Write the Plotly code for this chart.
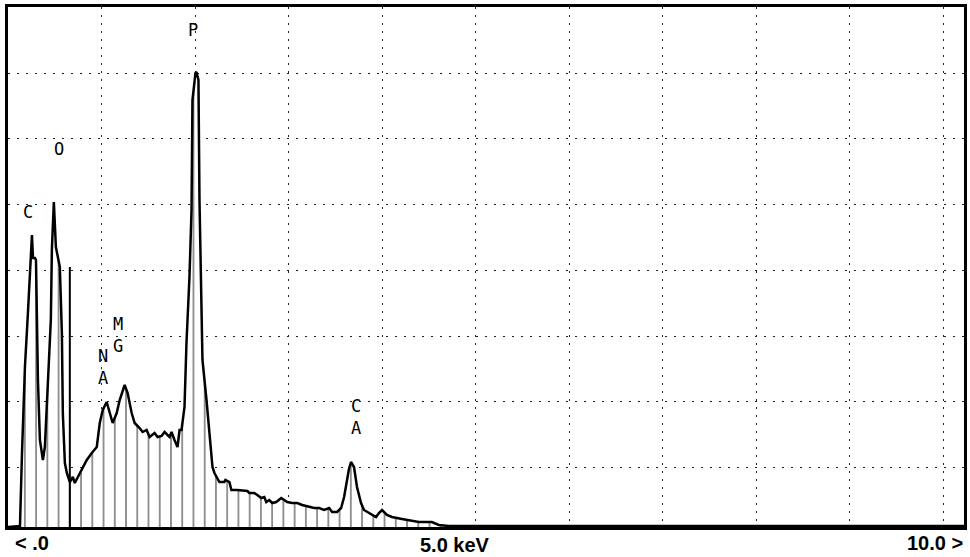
import plotly.graph_objects as go

# ---- data (energy in keV, counts in arbitrary units) ----
energy_kev = [0.000, 0.128, 0.149, 0.181, 0.213, 0.245, 0.256, 0.267, 0.288, 0.299,
              0.309, 0.320, 0.341, 0.362, 0.373, 0.394, 0.426, 0.458, 0.469, 0.490,
              0.512, 0.554, 0.576, 0.586, 0.608, 0.629, 0.661, 0.693, 0.714, 0.768,
              0.842, 0.896, 0.949, 0.981, 1.013, 1.055, 1.087, 1.119, 1.162, 1.194,
              1.247, 1.279, 1.322, 1.354, 1.407, 1.439, 1.482, 1.514, 1.567, 1.599,
              1.642, 1.674, 1.727, 1.748, 1.780, 1.812, 1.834, 1.855, 1.887, 1.908,
              1.940, 1.962, 1.972, 2.004, 2.015, 2.036, 2.047, 2.068, 2.079, 2.122,
              2.154, 2.186, 2.207, 2.260, 2.313, 2.324, 2.367, 2.388, 2.452, 2.559,
              2.580, 2.633, 2.665, 2.708, 2.740, 2.761, 2.793, 2.825, 2.868, 2.921,
              2.953, 2.985, 3.038, 3.092, 3.145, 3.198, 3.241, 3.273, 3.326, 3.380,
              3.433, 3.465, 3.518, 3.561, 3.593, 3.625, 3.645, 3.667, 3.699, 3.731,
              3.774, 3.806, 3.859, 3.934, 3.966, 3.998, 4.051, 4.104, 4.211, 4.318,
              4.392, 4.467, 4.531, 4.606, 4.712, 10.22]
counts = [0, 1, 72, 160, 214, 269, 292, 269, 269, 267,
          207, 147, 87, 70, 67, 80, 140, 207, 277, 325,
          280, 260, 194, 114, 64, 54, 45, 50, 44, 54,
          67, 74, 80, 104, 117, 125, 114, 104, 114, 127,
          142, 134, 114, 104, 99, 95, 97, 90, 94, 90,
          91, 95, 90, 95, 87, 80, 97, 97, 120, 184,
          250, 317, 427, 454, 455, 447, 327, 234, 167, 127,
          90, 60, 54, 45, 45, 47, 45, 37, 37, 36,
          34, 34, 32, 29, 30, 25, 27, 24, 25, 29,
          27, 25, 24, 24, 22, 21, 20, 19, 19, 17,
          19, 15, 15, 19, 30, 47, 58, 65, 60, 40,
          24, 17, 14, 10, 14, 17, 12, 10, 8, 6,
          5, 5, 5, 2, 1, 1]

marker_kev = [0.661]
marker_counts = [260]

peak_labels = ["C", "O", "P", "M<br>G", "N<br>A", "C<br>A"]
peak_kev = [0.213, 0.544, 1.983, 1.173, 1.013, 3.721]
peak_counts = [315, 378, 497, 192, 160, 110]

x_grid = [1, 2, 3, 4, 5, 6, 7, 8, 9, 10]
y_grid = [60, 126, 191, 257, 323, 389, 454]

fig = go.Figure()

# hatched spectrum
fig.add_trace(go.Scatter(
    x=energy_kev, y=counts, mode="lines",
    line=dict(color="black", width=2.5),
    fill="tozeroy",
    fillpattern=dict(shape="|", size=11.24, solidity=0.1,
                     fgcolor="#444444", bgcolor="white", fillmode="replace"),
    hoverinfo="skip", showlegend=False))

# marker line(s)
mx, my = [], []
for e, c in zip(marker_kev, marker_counts):
    mx += [e, e, None]
    my += [0, c, None]
fig.add_trace(go.Scatter(x=mx, y=my, mode="lines",
                         line=dict(color="black", width=2),
                         hoverinfo="skip", showlegend=False))

for t, e, c in zip(peak_labels, peak_kev, peak_counts):
    fig.add_annotation(x=e, y=c, xref="x", yref="y", text=t, showarrow=False,
                       font=dict(family="DejaVu Sans Mono", size=17, color="black"))

lab_font = dict(family="Liberation Sans", size=20, color="black", weight="bold")
fig.add_annotation(x=0.005, y=-0.031, xref="paper", yref="paper", text="< .0",
                   showarrow=False, xanchor="left", yanchor="middle", font=lab_font)
fig.add_annotation(x=0.468, y=-0.035, xref="paper", yref="paper", text="5.0 keV",
                   showarrow=False, xanchor="center", yanchor="middle", font=lab_font)
fig.add_annotation(x=1.001, y=-0.031, xref="paper", yref="paper", text="10.0 >",
                   showarrow=False, xanchor="right", yanchor="middle", font=lab_font)

fig.update_xaxes(range=[0, 10.22], tickmode="array", tickvals=x_grid,
                 showticklabels=False, ticks="",
                 showgrid=True, gridcolor="#222222", gridwidth=1, griddash="2px,6px",
                 showline=True, linecolor="black", linewidth=3, mirror=True,
                 zeroline=False)
fig.update_yaxes(range=[0, 520], tickmode="array", tickvals=y_grid,
                 showticklabels=False, ticks="",
                 showgrid=True, gridcolor="#222222", gridwidth=1, griddash="2px,7px",
                 showline=True, linecolor="black", linewidth=3, mirror=True,
                 zeroline=False)

fig.update_layout(width=970, height=557, margin=dict(l=8, r=3, t=7, b=30),
                  paper_bgcolor="white", plot_bgcolor="white")

fig.write_html("out.html")
